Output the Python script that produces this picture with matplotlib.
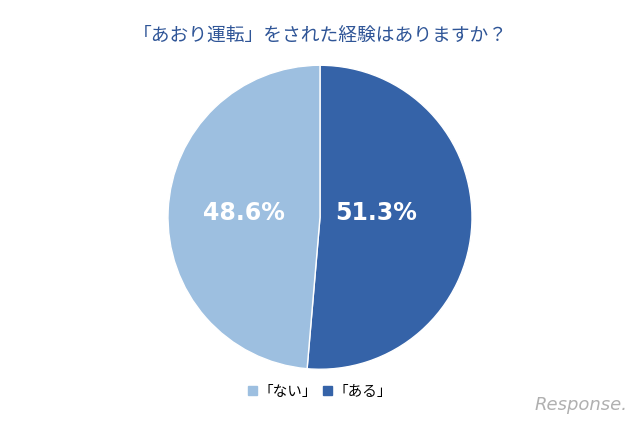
import matplotlib
matplotlib.use("Agg")
import matplotlib.pyplot as plt
from matplotlib.patches import Patch

plt.rcParams['font.family'] = ['Noto Sans CJK JP', 'DejaVu Sans']

labels = ["「ある」", "「ない」"]
values = [51.3, 48.6]
colors = ["#3563a8", "#9dbfe0"]
title = "「あおり運転」をされた経験はありますか？"
label_x = [0.37, -0.5]

fig = plt.figure(figsize=(6.4, 4.26), dpi=100)
ax = fig.add_axes([0.5 - 0.2375, 0.49 - 0.357, 0.475, 0.714])
wedges, texts = ax.pie(values, colors=colors, startangle=90, counterclock=False,
                       wedgeprops=dict(edgecolor="white", linewidth=1))
for x, v in zip(label_x, values):
    ax.text(x, 0.03, f"{v:.1f}%", ha="center", va="center",
            color="white", fontsize=17, fontweight="bold", family=['DejaVu Sans'])
ax.set_xlim(-1, 1)
ax.set_ylim(-1, 1)
ax.set_aspect("equal")

fig.text(0.5, 1 - 35 / 426, title, ha="center", va="center", fontsize=13.5, color="#2f5597")

handles = [Patch(color=colors[1], label=labels[1]), Patch(color=colors[0], label=labels[0])]
fig.legend(handles=handles, loc="center", bbox_to_anchor=(0.5, 1 - 392 / 426), ncol=2,
           frameon=False, fontsize=10.5, handlelength=0.6, handleheight=0.6,
           handletextpad=0.1, columnspacing=0.4)

fig.text(0.98, 1 - 405 / 426, "Response.", ha="right", va="center", fontsize=13,
         color="#b0b0b0", style="italic", family=['DejaVu Sans'])

fig.savefig("out.png", dpi=100)
